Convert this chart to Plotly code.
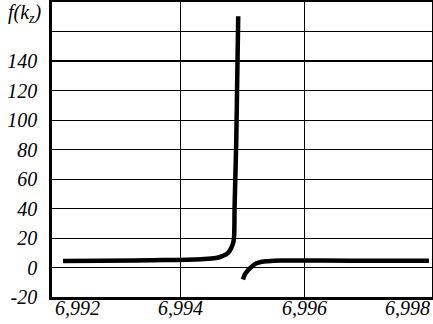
import plotly.graph_objects as go

# Left branch (below the pole)
x_left = [6.992097, 6.992710, 6.993516, 6.994323, 6.994565, 6.994677, 6.994758,
          6.994806, 6.994839, 6.994855, 6.994866, 6.994879, 6.994892, 6.994908, 6.994924]
y_left = [4.4, 4.5, 4.9, 5.6, 6.4, 7.9, 9.8, 12.8, 16.2, 19.6, 41.9, 63.5, 85.0, 127.7, 170.3]

# Right branch (above the pole)
x_right = [6.995000, 6.995032, 6.995081, 6.995145, 6.995210, 6.995306, 6.995403,
           6.995613, 6.996258, 6.997226, 6.998000]
y_right = [-8.1, -4.7, -1.8, 0.7, 2.7, 3.9, 4.3, 4.7, 4.7, 4.6, 4.5]

x_tick_vals = [6.992, 6.994, 6.996, 6.998]
x_tick_text = ["6,992", "6,994", "6,996", "6,998"]
y_tick_vals = [-20, 0, 20, 40, 60, 80, 100, 120, 140, 160]
y_tick_text = ["-20", "0", "20", "40", "60", "80", "100", "120", "140", ""]
y_label = "f(k<sub>z</sub>)"

FONT = "'Liberation Serif', 'Times New Roman', Times, 'DejaVu Serif', serif"
font_it = dict(family=FONT, size=20, color="black", style="italic")

fig = go.Figure()
line_style = dict(color="black", width=4.5)
fig.add_trace(go.Scatter(x=x_left, y=y_left, mode="lines", line=line_style,
                         line_shape="spline", showlegend=False, hoverinfo="skip"))
fig.add_trace(go.Scatter(x=x_right, y=y_right, mode="lines", line=line_style,
                         line_shape="spline", showlegend=False, hoverinfo="skip"))

fig.update_layout(
    width=433, height=324,
    margin=dict(l=52, r=1, t=2, b=27, autoexpand=False),
    paper_bgcolor="white", plot_bgcolor="white",
    font=font_it,
    showlegend=False,
)
fig.update_xaxes(
    range=[6.99192, 6.99805], automargin=False,
    tickvals=x_tick_vals[1:3], showticklabels=False,
    showgrid=True, gridcolor="black", gridwidth=1.2,
    showline=True, linecolor="black", linewidth=2.5, mirror=True,
    ticks="", zeroline=False,
)
fig.update_yaxes(
    range=[-20, 180], automargin=False,
    tickvals=y_tick_vals, ticktext=y_tick_text,
    tickfont=font_it,
    showgrid=True, gridcolor="black", gridwidth=1.2,
    showline=True, linecolor="black", linewidth=2.5, mirror=True,
    ticks="", zeroline=False, ticklabelstandoff=8,
)

# Slightly heavier grid line at 140, as in the reference
fig.add_shape(type="line", xref="paper", x0=0, x1=1, yref="y", y0=140, y1=140,
              line=dict(color="black", width=2.2))

# X tick labels (end labels pulled inside the frame)
for i, (v, t) in enumerate(zip(x_tick_vals, x_tick_text)):
    if i == 0:
        anchor, shift = "left", -4
    elif i == len(x_tick_vals) - 1:
        anchor, shift = "right", 3
    else:
        anchor, shift = "center", 0
    fig.add_annotation(x=v, xref="x", y=0, yref="paper", yanchor="middle", yshift=-11,
                       xanchor=anchor, xshift=shift, text=t, showarrow=False,
                       font=font_it)

fig.add_annotation(x=0, xref="paper", xanchor="right", xshift=-8,
                   y=1, yref="paper", yanchor="middle", yshift=-11,
                   text=y_label, showarrow=False, font=font_it)

fig.write_html("out.html", config={"displayModeBar": False},
               post_script="document.body.style.margin='0';")
